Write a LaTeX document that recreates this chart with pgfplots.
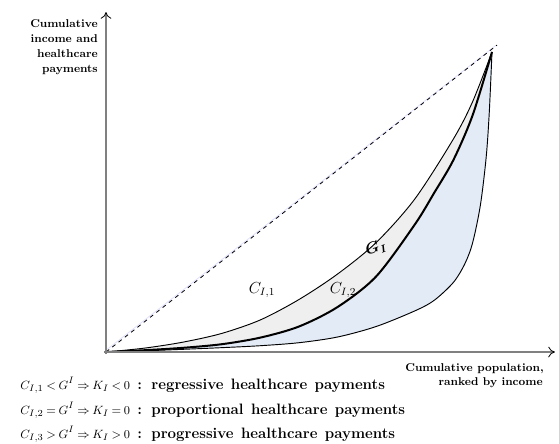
\documentclass[border=0pt]{standalone}
\usepackage{amsmath}
\usepackage{pgfplots}
\pgfplotsset{compat=1.18}
\usepgfplotslibrary{fillbetween}
\usetikzlibrary{arrows.meta}
\definecolor{axgray}{RGB}{128,128,128}
\definecolor{bandgray}{RGB}{239,239,239}
\definecolor{bandblue}{RGB}{227,235,246}
\newcommand{\sml}[1]{{\fontsize{9.5}{11}\selectfont$\thickmuskip=4mu\relax #1$}}
\pgfplotstableread{
x y
0 0
0.1 0.013
0.2 0.033
0.3 0.062
0.4 0.107
0.5 0.175
0.6 0.26
0.7 0.365
0.8 0.51
0.9 0.71
0.95 0.835
1 1
}\cA
\pgfplotstableread{
x y
0 0
0.1 0.006
0.2 0.014
0.3 0.026
0.4 0.048
0.5 0.085
0.6 0.15
0.7 0.252
0.8 0.425
0.85 0.53
0.9 0.64
0.95 0.79
1 1
}\cB
\pgfplotstableread{
x y
0 0
0.1 0.004
0.2 0.009
0.3 0.0145
0.4 0.021
0.5 0.031
0.6 0.05
0.7 0.085
0.8 0.137
0.85 0.172
0.9 0.232
0.93 0.295
0.95 0.365
0.97 0.49
0.985 0.65
0.993 0.8
1 1
}\cC
\begin{document}
\begin{tikzpicture}
\begin{axis}[
  at={(0,0)}, anchor=south west,
  scale only axis, width=419.25pt, height=332.25pt,
  xmin=-0.2746, xmax=1.1736, ymin=-0.3033, ymax=1.1733,
  axis line style={draw=none}, ticks=none,
]
\addplot[blue!12, line width=0.6pt] coordinates {(0,0.006) (1.01,1.022)};
\addplot[name path=c11, draw=none, smooth] table {\cA};
\addplot[name path=c12, draw=none, smooth] table {\cB};
\addplot[name path=c13, draw=none, smooth] table {\cC};
\addplot[bandgray] fill between[of=c11 and c12];
\addplot[bandblue] fill between[of=c12 and c13];
\addplot[black, line width=0.7pt, smooth] table {\cA};
\addplot[black, line width=0.7pt, smooth] table {\cC};
\addplot[black, line width=1.5pt, smooth] table {\cB};
\addplot[black, dashed, line width=0.6pt] coordinates {(0,0) (1.013,1.023)};
\draw[axgray, line width=1.1pt, -{To[black, line width=0.6pt, length=5pt, width=8pt]}]
  (axis cs:0,-0.007) -- (axis cs:0,1.133);
\draw[axgray, line width=1.1pt, -{To[black, line width=0.6pt, length=5pt, width=8pt]}]
  (axis cs:-0.005,0) -- (axis cs:1.163,0);
\end{axis}
\begin{scope}[x=0.75pt, y=-0.75pt, shift={(0,332.25pt)}]
\begin{scope}[every node/.style={anchor=base east, inner sep=0pt, font=\fontsize{8.5}{10}\selectfont\bfseries}]
\node at (98,28) {Cumulative};
\node at (98,43) {income and};
\node at (98,58) {healthcare};
\node at (98,73) {payments};
\node at (544,371) {Cumulative population,};
\node at (543,385) {ranked by income};
\end{scope}
\node[font=\large] at (262,290) {$C_{I,1}$};
\node[font=\large] at (343,290) {$C_{I,2}$};
\node[font=\large, rotate=20, inner sep=0pt] at (376,248) {$\boldsymbol{G_I}$};
\begin{scope}[every node/.style={anchor=base west, inner sep=0pt, font=\fontsize{11.3}{13}\selectfont\bfseries}]
\node at (20,389) {\spaceskip=5.5pt\relax\sml{C_{I,1} < G^I \Rightarrow K_I < 0} : regressive healthcare payments};
\node at (20,414) {\spaceskip=5.5pt\relax\sml{C_{I,2} = G^I \Rightarrow K_I = 0} : proportional healthcare payments};
\node at (20,438) {\spaceskip=5.5pt\relax\sml{C_{I,3} > G^I \Rightarrow K_I > 0} : progressive healthcare payments};
\end{scope}
\end{scope}
\pgfresetboundingbox
\path[use as bounding box] (0,0) rectangle (419.25pt,332.25pt);
\end{tikzpicture}
\end{document}
